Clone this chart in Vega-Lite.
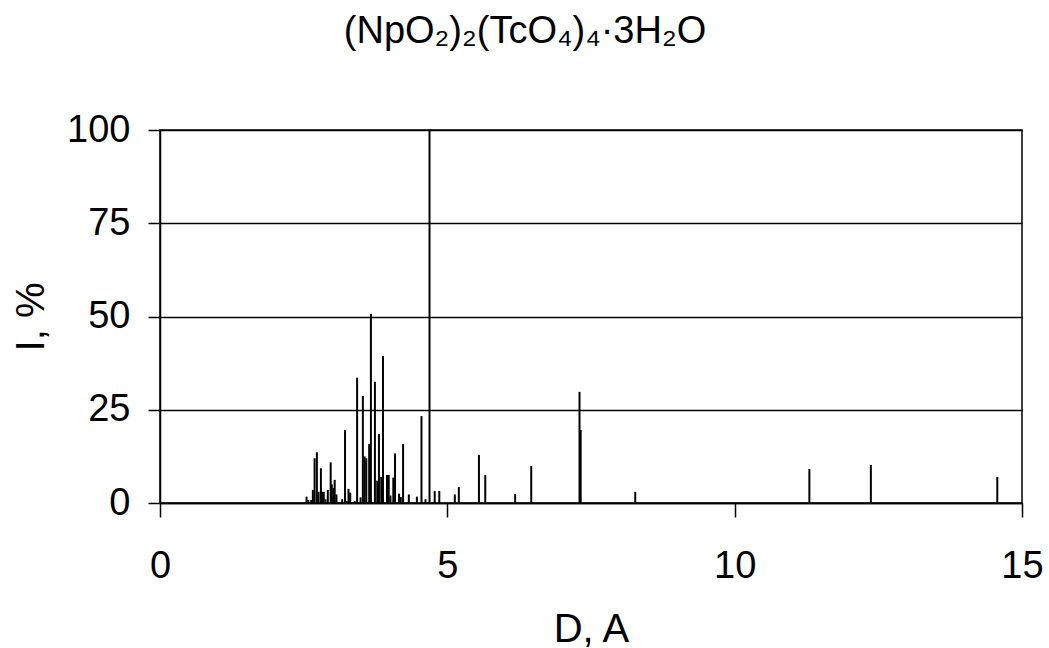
{
  "$schema": "https://vega.github.io/schema/vega-lite/v6.json",
  "autosize": "none",
  "width": 862,
  "height": 373,
  "padding": {"left": 160, "top": 130, "right": 27, "bottom": 145},
  "background": "white",
  "title": {
    "text": "(NpO₂)₂(TcO₄)₄·3H₂O",
    "font": "Liberation Sans",
    "fontSize": 38,
    "fontWeight": "normal",
    "color": "black",
    "frame": "group",
    "anchor": "middle",
    "dx": -66,
    "baseline": "alphabetic",
    "offset": 30
  },
  "config": {
    "view": {"stroke": "black", "strokeWidth": 1.5},
    "axis": {
      "domainColor": "black",
      "domainWidth": 1.5,
      "tickColor": "black",
      "tickWidth": 1.5,
      "gridColor": "black",
      "gridWidth": 1.5,
      "gridOpacity": 1,
      "labelFont": "Liberation Sans",
      "labelFontSize": 38,
      "labelColor": "black",
      "titleFont": "Liberation Sans",
      "titleFontSize": 40,
      "titleFontWeight": "normal",
      "titleColor": "black"
    }
  },
  "data": {
    "values": [
      {"D": 2.55, "I": 1.7},
      {"D": 2.58, "I": 0.8},
      {"D": 2.63, "I": 0.8},
      {"D": 2.66, "I": 3.5},
      {"D": 2.69, "I": 12},
      {"D": 2.73, "I": 13.6},
      {"D": 2.76, "I": 3},
      {"D": 2.80, "I": 9.3},
      {"D": 2.82, "I": 3},
      {"D": 2.85, "I": 3},
      {"D": 2.88, "I": 1},
      {"D": 2.92, "I": 3.5},
      {"D": 2.97, "I": 10.9},
      {"D": 2.99, "I": 5},
      {"D": 3.02, "I": 4},
      {"D": 3.04, "I": 6.2},
      {"D": 3.07, "I": 2.3},
      {"D": 3.17, "I": 1},
      {"D": 3.22, "I": 19.6},
      {"D": 3.25, "I": 0.5},
      {"D": 3.28, "I": 3.8},
      {"D": 3.31, "I": 2.8},
      {"D": 3.39, "I": 0.5},
      {"D": 3.43, "I": 33.6},
      {"D": 3.49, "I": 1.5},
      {"D": 3.53, "I": 28.7},
      {"D": 3.56, "I": 12.5},
      {"D": 3.59, "I": 12},
      {"D": 3.64, "I": 15.8},
      {"D": 3.67, "I": 50.7},
      {"D": 3.74, "I": 32.5},
      {"D": 3.78, "I": 6},
      {"D": 3.81, "I": 18.5},
      {"D": 3.85, "I": 7},
      {"D": 3.88, "I": 39.4},
      {"D": 3.95, "I": 7.5},
      {"D": 3.98, "I": 7.5},
      {"D": 4.01, "I": 2},
      {"D": 4.06, "I": 6.8},
      {"D": 4.09, "I": 13.3},
      {"D": 4.16, "I": 2.5},
      {"D": 4.19, "I": 1.6},
      {"D": 4.23, "I": 15.8},
      {"D": 4.33, "I": 2.3},
      {"D": 4.47, "I": 1.7},
      {"D": 4.55, "I": 23.3},
      {"D": 4.62, "I": 1},
      {"D": 4.69, "I": 100},
      {"D": 4.78, "I": 3.2},
      {"D": 4.86, "I": 3.2},
      {"D": 5.13, "I": 2.3},
      {"D": 5.20, "I": 4.3},
      {"D": 5.55, "I": 12.9},
      {"D": 5.66, "I": 7.5},
      {"D": 6.18, "I": 2.4},
      {"D": 6.46, "I": 9.9},
      {"D": 7.30, "I": 29.8},
      {"D": 7.32, "I": 19.6},
      {"D": 8.27, "I": 3},
      {"D": 11.30, "I": 9.1},
      {"D": 12.37, "I": 10.2},
      {"D": 14.57, "I": 7}
    ]
  },
  "mark": {"type": "rule", "color": "black", "strokeWidth": 2},
  "encoding": {
    "x": {
      "field": "D",
      "type": "quantitative",
      "scale": {"domain": [0, 15], "nice": false, "zero": false},
      "axis": {
        "title": "D, A",
        "values": [0, 5, 10, 15],
        "grid": false,
        "tickSize": 14,
        "labelPadding": 60,
        "labelBaseline": "alphabetic",
        "labelFlush": false,
        "titleBaseline": "alphabetic",
        "titleY": 138,
        "titleX": 431
      }
    },
    "y": {
      "field": "I",
      "type": "quantitative",
      "scale": {"domain": [0, 100], "nice": false},
      "axis": {
        "title": "I, %",
        "values": [0, 25, 50, 75, 100],
        "grid": true,
        "tickSize": 12,
        "labelPadding": 18,
        "labelBaseline": "middle",
        "labelFlush": false,
        "titleBaseline": "alphabetic",
        "titleX": -117,
        "titleY": 186.5
      }
    },
    "y2": {"datum": 0}
  }
}
